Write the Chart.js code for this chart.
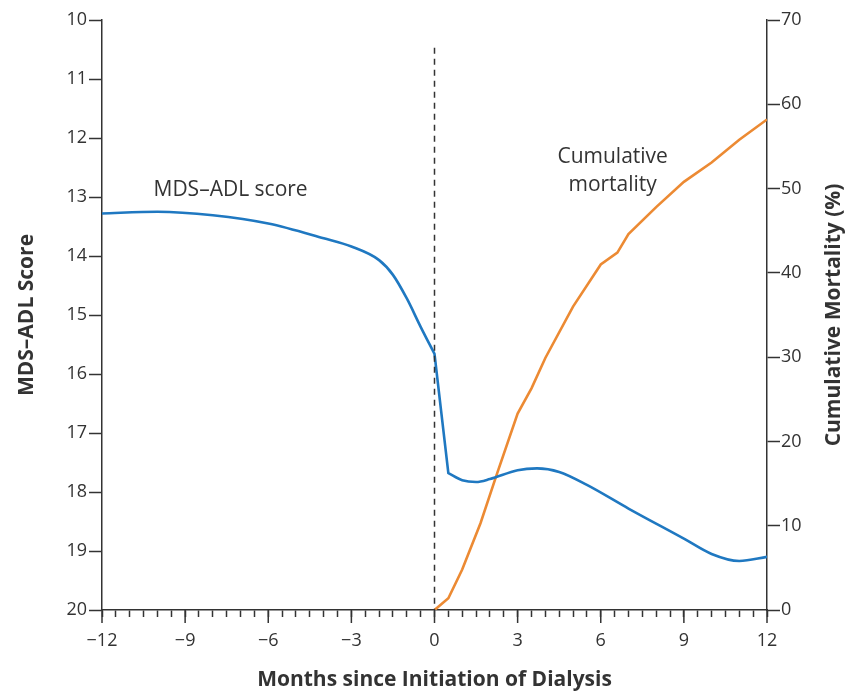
<!DOCTYPE html>
<html>
<head>
<meta charset="utf-8">
<script src="https://cdn.jsdelivr.net/npm/chart.js@4"></script>
<style>
    body { margin: 0; background: #fff; }
    #wrap { width: 852px; height: 693px; }
</style>
</head>
<body>
<div id="wrap"><canvas id="chart" width="852" height="693"></canvas></div>
<script>
// MDS-ADL score (left axis, reversed)
const adlMonths = [-12, -10, -8, -6, -4, -3, -2, -1.5, -1, -0.5, 0, 0.5, 1, 1.5, 2, 3, 3.7, 4.5, 5.5, 7, 9, 10, 11, 12]
const adlScore = [13.28, 13.25, 13.31, 13.45, 13.70, 13.84, 14.07, 14.32, 14.72, 15.20, 15.66, 17.68, 17.80, 17.83, 17.78, 17.63, 17.60, 17.66, 17.88, 18.28, 18.79, 19.05, 19.17, 19.10]
// sharp corners in the score curve
const adlCorners = [0, 0.5]

// cumulative mortality (right axis, %)
const mortMonths = [0, 0.5, 1, 1.66, 2.26, 3, 3.5, 4, 5, 6, 6.6, 7, 8, 9, 10, 11, 12]
const mortPct = [0, 1.4, 4.8, 10.3, 16.2, 23.3, 26.3, 29.9, 36.0, 41.0, 42.4, 44.6, 47.8, 50.8, 53.1, 55.8, 58.2]

// dashed marker at dialysis start
const markerMonth = [0, 0]
const markerScore = [10.47, 20]

// axes
const xMajorTicks = [-12, -9, -6, -3, 0, 3, 6, 9, 12]
const rightTitle = "Cumulative Mortality (%)"

// in-plot labels: [text, month, value, axis]
const notes = [
    ["MDS\u2013ADL score", -7.36, 12.88, "y"],
    ["Cumulative", 6.43, 53.7, "y1"],
    ["mortality", 6.43, 50.4, "y1"]
]

const font = "'Open Sans', 'Noto Sans', sans-serif"
const ink = "#333333"

const toPoints = (xs, ys) => xs.map((x, i) => ({ x: x, y: ys[i] }))

// break the smooth curve at corners so they stay sharp
const withCorners = (xs, ys, corners) => {
    const out = []
    xs.forEach((x, i) => {
        out.push({ x: x, y: ys[i] })
        if (corners.includes(x) && i > 0 && i < xs.length - 1) {
            out.push({ x: x, y: null })
            out.push({ x: x, y: ys[i] })
        }
    })
    return out
}

const extras = {
    id: "extras",
    afterDraw(chart) {
        const ctx = chart.ctx
        const xs = chart.scales.x
        const r = chart.scales.y1
        ctx.save()
        // longer ticks at labelled months
        ctx.strokeStyle = ink
        ctx.lineWidth = 1.5
        for (const m of xMajorTicks) {
            const px = xs.getPixelForValue(m)
            ctx.beginPath()
            ctx.moveTo(px, xs.top)
            ctx.lineTo(px, xs.top + 13)
            ctx.stroke()
        }
        // in-plot labels
        ctx.fillStyle = ink
        ctx.font = `21px ${font}`
        ctx.textAlign = "center"
        ctx.textBaseline = "middle"
        for (const n of notes) {
            ctx.fillText(n[0], xs.getPixelForValue(n[1]), chart.scales[n[3]].getPixelForValue(n[2]))
        }
        // right axis title reads bottom to top
        ctx.translate(r.right - 18, (r.top + r.bottom) / 2)
        ctx.rotate(-Math.PI / 2)
        ctx.font = `bold 21px ${font}`
        ctx.fillText(rightTitle, 0, 0)
        ctx.restore()
    }
}

new Chart("chart", {
    type: "line",
    data: {
        datasets: [{
            label: "Dialysis start",
            data: toPoints(markerMonth, markerScore),
            borderColor: ink,
            borderWidth: 1.5,
            borderDash: [6, 5],
            pointRadius: 0,
            yAxisID: "y"
        },
        {
            label: "MDS\u2013ADL score",
            data: withCorners(adlMonths, adlScore, adlCorners),
            borderColor: "#1f78c1",
            borderWidth: 2.6,
            borderCapStyle: "round",
            pointRadius: 0,
            spanGaps: false,
            cubicInterpolationMode: "monotone",
            yAxisID: "y"
        },
        {
            label: "Cumulative mortality",
            data: toPoints(mortMonths, mortPct),
            borderColor: "#ec8a33",
            borderWidth: 2.6,
            pointRadius: 0,
            tension: 0,
            yAxisID: "y1"
        }]
    },
    options: {
        responsive: false,
        animation: false,
        devicePixelRatio: 1,
        layout: { padding: { top: 20, left: 0, right: 0, bottom: 0 } },
        plugins: {
            legend: { display: false },
            tooltip: { enabled: false }
        },
        scales: {
            x: {
                type: "linear",
                min: -12,
                max: 12,
                afterFit: s => { s.height = 83 },
                border: { color: ink, width: 1.5 },
                grid: { drawOnChartArea: false, tickLength: 7, tickColor: ink, tickWidth: 1.5 },
                ticks: {
                    stepSize: 0.5,
                    autoSkip: false,
                    maxRotation: 0,
                    padding: 13,
                    color: ink,
                    font: { family: font, size: 18 },
                    callback: v => v % 3 === 0 ? (v < 0 ? "\u2212" + Math.abs(v) : String(v)) : ""
                },
                title: {
                    display: true,
                    text: "Months since Initiation of Dialysis",
                    color: ink,
                    font: { family: font, size: 21, weight: "bold" },
                    padding: { top: 0, bottom: 0 }
                }
            },
            y: {
                position: "left",
                reverse: true,
                min: 10,
                max: 20,
                afterFit: s => { s.width = 102 },
                border: { color: ink, width: 1.5 },
                grid: { drawOnChartArea: false, tickLength: 13, tickColor: ink, tickWidth: 1.5 },
                ticks: {
                    stepSize: 1,
                    padding: 2,
                    color: ink,
                    font: { family: font, size: 18 }
                },
                title: {
                    display: true,
                    text: "MDS\u2013ADL Score",
                    color: ink,
                    font: { family: font, size: 21, weight: "bold" },
                    padding: { top: 14, bottom: 0 }
                }
            },
            y1: {
                position: "right",
                min: 0,
                max: 70,
                afterFit: s => { s.width = 85 },
                border: { color: ink, width: 1.5 },
                grid: { drawOnChartArea: false, tickLength: 13, tickColor: ink, tickWidth: 1.5 },
                ticks: {
                    stepSize: 10,
                    padding: 1,
                    color: ink,
                    font: { family: font, size: 18 }
                }
            }
        }
    },
    plugins: [extras]
})
</script>
</body>
</html>
